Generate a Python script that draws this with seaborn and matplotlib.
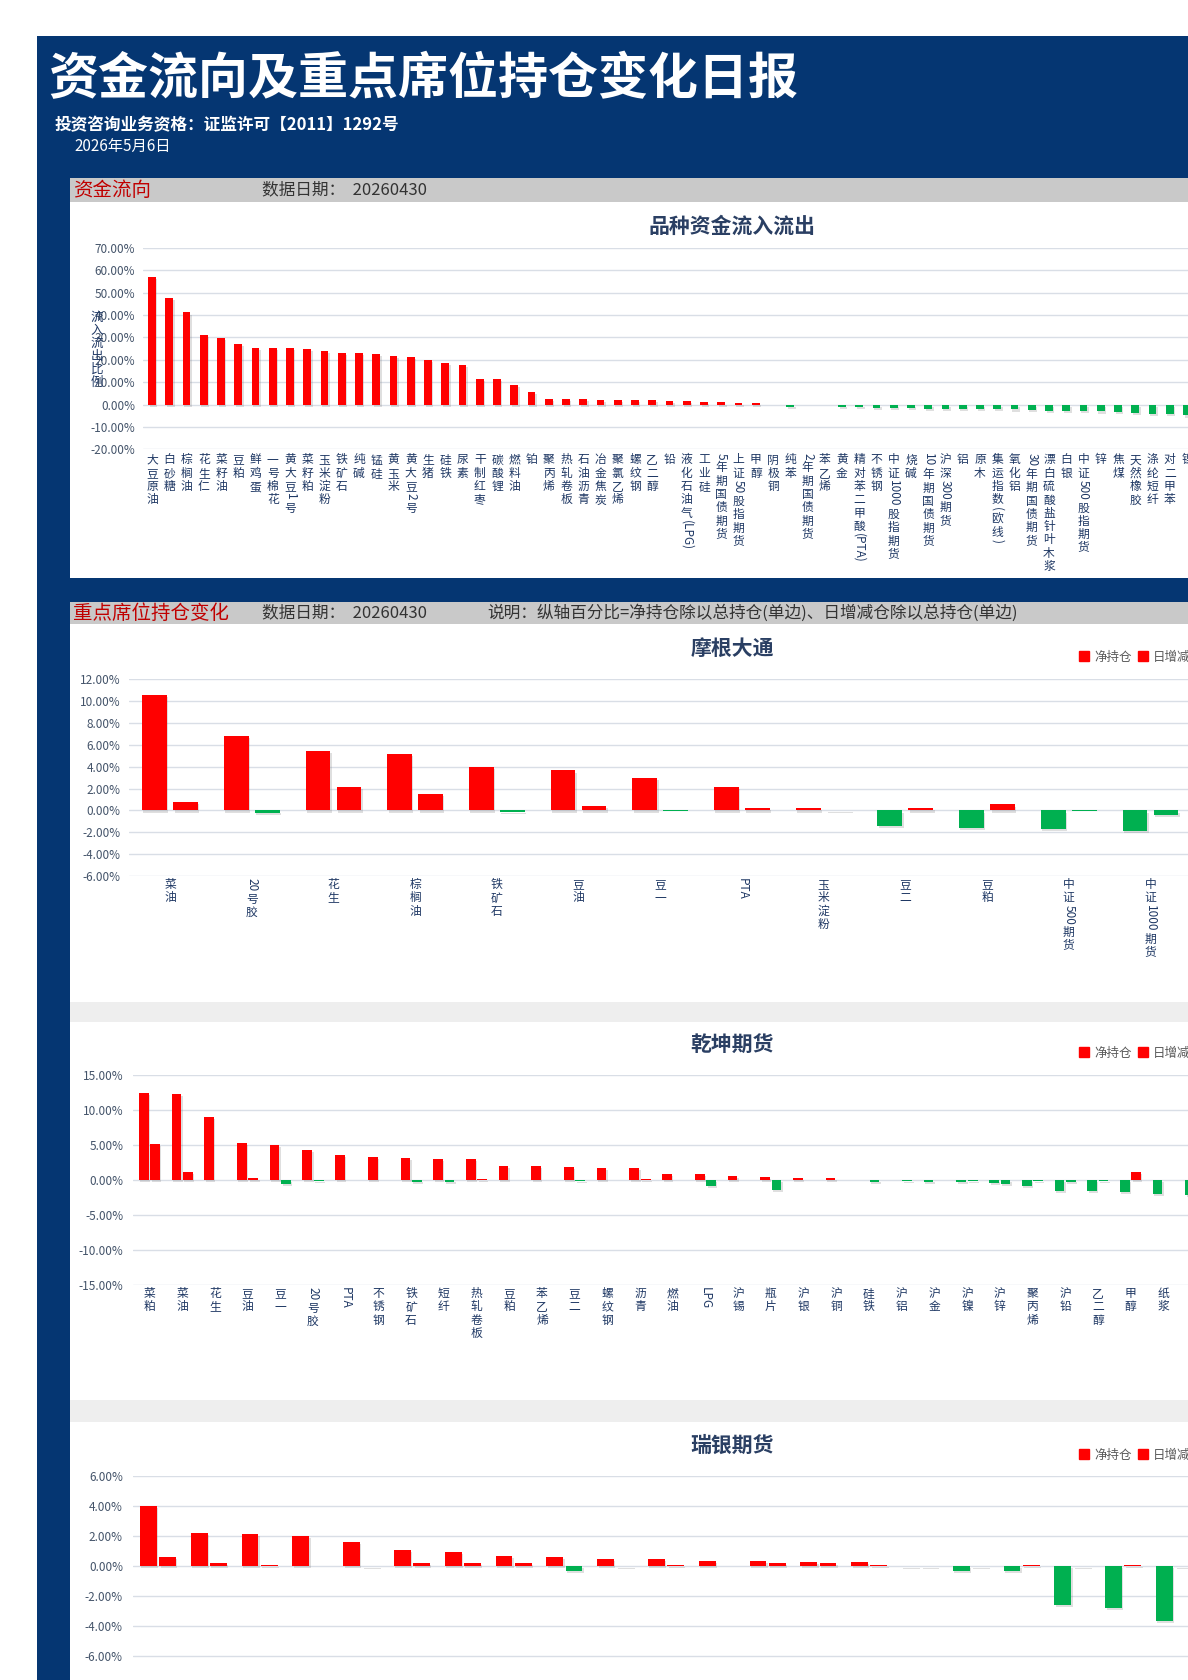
import re
import matplotlib
matplotlib.use('Agg')
import matplotlib.pyplot as plt
import matplotlib.patheffects as pe
import seaborn as sns
import pandas as pd
from matplotlib.patches import Rectangle
from matplotlib.lines import Line2D

# --- Data ---
flow_names = ['大豆原油', '白砂糖', '棕榈油', '花生仁', '菜籽油', '豆粕', '鲜鸡蛋', '一号棉花', '黄大豆1号', '菜籽粕',
              '玉米淀粉', '铁矿石', '纯碱', '锰硅', '黄玉米', '黄大豆2号', '生猪', '硅铁', '尿素', '干制红枣',
              '碳酸锂', '燃料油', '铂', '聚丙烯', '热轧卷板', '石油沥青', '冶金焦炭', '聚氯乙烯', '螺纹钢', '乙二醇',
              '铅', '液化石油气(LPG)', '工业硅', '5年期国债期货', '上证50股指期货', '甲醇', '阴极铜', '纯苯', '2年期国债期货', '苯乙烯',
              '黄金', '精对苯二甲酸(PTA)', '不锈钢', '中证1000股指期货', '烧碱', '10年期国债期货', '沪深300期货', '铝', '原木', '集运指数(欧线)',
              '氧化铝', '30年期国债期货', '漂白硫酸盐针叶木浆', '白银', '中证500股指期货', '锌', '焦煤', '天然橡胶', '涤纶短纤', '对二甲苯',
              '镍']
flow_values = [57.0, 47.6, 41.1, 31.0, 29.8, 26.9, 25.1, 25.1, 25.1, 24.9,
               23.8, 23.1, 23.1, 22.5, 21.7, 21.1, 19.8, 18.5, 17.7, 11.5,
               11.5, 8.8, 5.5, 2.4, 2.4, 2.4, 2.1, 2.0, 2.0, 1.9,
               1.6, 1.5, 1.0, 0.9, 0.7, 0.6, -0.3, -1.2, -0.3, -0.3,
               -1.2, -1.3, -1.6, -1.6, -1.6, -1.8, -1.8, -1.8, -1.9, -2.1,
               -2.2, -2.5, -2.8, -3.0, -3.0, -3.1, -3.4, -3.6, -4.2, -4.3,
               -4.9]

jpm_names = ['菜油', '20号胶', '花生', '棕榈油', '铁矿石', '豆油', '豆一', 'PTA', '玉米淀粉', '豆二', '豆粕',
             '中证500期货', '中证1000期货']
jpm_net = [10.53, 6.81, 5.43, 5.16, 3.97, 3.66, 3.0, 2.14, 0.2, -1.44, -1.59, -1.7, -1.9]
jpm_chg = [0.76, -0.24, 2.14, 1.53, -0.15, 0.4, -0.05, 0.2, 0.05, 0.2, 0.55, -0.03, -0.42]

qk_names = ['菜粕', '菜油', '花生', '豆油', '豆一', '20号胶', 'PTA', '不锈钢', '铁矿石', '短纤', '热轧卷板',
            '豆粕', '苯乙烯', '豆二', '螺纹钢', '沥青', '燃油', 'LPG', '沪锡', '瓶片', '沪银', '沪铜', '硅铁',
            '沪铝', '沪金', '沪镍', '沪锌', '聚丙烯', '沪铅', '乙二醇', '甲醇', '纸浆', '棉花']
qk_net = [12.48, 12.29, 9.05, 5.24, 5.0, 4.33, 3.57, 3.29, 3.14, 3.05, 3.05,
          2.05, 2.05, 1.86, 1.76, 1.76, 0.81, 0.81, 0.57, 0.48, 0.24, 0.24, 0.0,
          0.0, -0.29, -0.29, -0.43, -0.9, -1.57, -1.57, -1.67, -2.0, -2.1]
qk_chg = [5.19, 1.14, 0.0, 0.24, -0.62, -0.1, 0.0, 0.0, -0.24, -0.24, 0.2,
          0.0, 0.0, -0.1, 0.0, 0.2, 0.0, -0.81, 0.0, -1.43, 0.0, 0.0, -0.29,
          -0.1, 0.0, -0.1, -0.52, -0.1, -0.29, -0.1, 1.14, 0.0, 0.0]

# category labels of the UBS chart sit below the visible page
ubs_names = ['U01', 'U02', 'U03', 'U04', 'U05', 'U06', 'U07', 'U08', 'U09', 'U10', 'U11',
             'U12', 'U13', 'U14', 'U15', 'U16', 'U17', 'U18', 'U19', 'U20', 'U21']
ubs_net = [3.98, 2.16, 2.09, 1.98, 1.56, 1.04, 0.89, 0.67, 0.6, 0.44, 0.44,
           0.33, 0.33, 0.24, 0.24, -0.05, -0.36, -0.36, -2.62, -2.8, -3.67]
ubs_chg = [0.56, 0.16, 0.05, 0.0, -0.05, 0.16, 0.16, 0.16, -0.36, -0.05, 0.05,
           0.0, 0.16, 0.16, 0.05, -0.05, -0.05, 0.05, -0.05, 0.05, -0.05]

SERIES = ['净持仓', '日增减仓']

# --- Style ---
W, H, DPI = 1188, 1680, 100
NAVY = '#053672'
RED = '#FF0000'
GREEN = '#00B050'
GRID = '#D9DEE6'
TICK_C = '#44546A'
LABEL_C = '#1F3864'
TITLE_C = '#2A3F63'

sns.set_theme(style='white')
plt.rcParams['font.family'] = ['Noto Sans CJK SC', 'DejaVu Sans']
plt.rcParams['axes.unicode_minus'] = False

fig = plt.figure(figsize=(W / DPI, H / DPI), dpi=DPI)
fig.patch.set_facecolor('white')
renderer = fig.canvas.get_renderer()


def fx(px):
    return px / W


def fy(py):
    return 1 - py / H


def rect(x0, y0, x1, y1, color):
    fig.add_artist(Rectangle((fx(x0), fy(y1)), fx(x1) - fx(x0), (y1 - y0) / H,
                             transform=fig.transFigure, facecolor=color, edgecolor='none', zorder=0))


def make_ax(left, top, bottom, width):
    return fig.add_axes([fx(left), fy(bottom), width / W, (bottom - top) / H])


def stack_label(ax, x, text, top_pt, fs=8.5, pitch=9.6):
    # vertical label: CJK upright, latin/digit runs turned 90 degrees
    cursor = top_pt
    for seg in re.findall(r'[\x00-\x7f]+|[^\x00-\x7f]', text):
        ascii_run = seg.isascii()
        t = ax.annotate(seg, xy=(x, 0), xycoords=ax.get_xaxis_transform(),
                        xytext=(0, -cursor), textcoords='offset points',
                        ha='center', va='top', rotation=-90 if ascii_run else 0,
                        fontsize=fs, color=LABEL_C, annotation_clip=False)
        if ascii_run:
            cursor += t.get_window_extent(renderer).height * 72 / DPI + 1.0
        else:
            cursor += pitch


def style_axis(ax, ticks, xlim, pad):
    ax.set_facecolor('none')
    ax.set_xlim(*xlim)
    ax.set_ylim(ticks[0], ticks[-1])
    ax.set_yticks(ticks)
    ax.set_yticklabels([f'{v:.2f}%' for v in ticks])
    ax.tick_params(axis='y', length=0, pad=pad, labelsize=8.5, labelcolor=TICK_C)
    ax.tick_params(axis='x', length=0, labelbottom=False)
    ax.grid(axis='y', color=GRID, lw=1)
    ax.set_axisbelow(True)
    ax.set_xlabel('')
    ax.set_ylabel('')
    sns.despine(ax=ax, left=True, bottom=True)


def color_bars(ax):
    shadow = [pe.SimplePatchShadow(offset=(1, -1.5), shadow_rgbFace='#808080', alpha=0.25), pe.Normal()]
    for p in ax.patches:
        c = RED if p.get_height() >= 0 else GREEN
        p.set_facecolor(c)
        p.set_edgecolor('none')
        p.set_path_effects(shadow)


def legend_at(x, y):
    handles = [Line2D([], [], marker='s', linestyle='none', markersize=6.5,
                      markerfacecolor=RED, markeredgecolor=RED) for _ in SERIES]
    fig.legend(handles, SERIES, loc='center left', bbox_to_anchor=(fx(x), fy(y)),
               bbox_transform=fig.transFigure, ncol=2, frameon=False, fontsize=9,
               handlelength=0.8, handletextpad=0.4, columnspacing=0.5, labelcolor='#595959')


# --- Page background ---
rect(37, 36, W, H, NAVY)
rect(70, 178, W, 202, '#C9C9C9')
rect(70, 202, W, 578, 'white')
rect(70, 602, W, 624, '#C9C9C9')
rect(70, 624, W, 1002, 'white')
rect(70, 1002, W, 1022, '#EEEEEE')
rect(70, 1022, W, 1400, 'white')
rect(70, 1400, W, 1422, '#EEEEEE')
rect(70, 1422, W, H, 'white')

fig.text(fx(48), fy(80), '资金流向及重点席位持仓变化日报', color='white', fontsize=36,
         fontweight='bold', va='center', ha='left')
fig.text(fx(55), fy(125), '投资咨询业务资格：证监许可【2011】1292号', color='white', fontsize=12,
         fontweight='bold', va='center', ha='left')
fig.text(fx(74), fy(146), '2026年5月6日', color='white', fontsize=11, va='center', ha='left')

fig.text(fx(73), fy(190), '资金流向', color='#C00000', fontsize=14, va='center', ha='left')
fig.text(fx(262), fy(190), '数据日期：  20260430', color='#333333', fontsize=12, va='center', ha='left')
fig.text(fx(73), fy(613), '重点席位持仓变化', color='#C00000', fontsize=14, va='center', ha='left')
fig.text(fx(262), fy(613), '数据日期：  20260430', color='#333333', fontsize=12, va='center', ha='left')
fig.text(fx(487), fy(613), '说明：纵轴百分比=净持仓除以总持仓(单边)、日增减仓除以总持仓(单边)',
         color='#333333', fontsize=12, va='center', ha='left')

# --- 1. Fund flow by commodity ---
ax1 = make_ax(143.4, 247.7, 449.3, 65 * 17.25)
flow_df = pd.DataFrame({'品种': flow_names, '比例': flow_values})
sns.barplot(data=flow_df, x='品种', y='比例', ax=ax1, width=0.45, color=RED, errorbar=None)
color_bars(ax1)
style_axis(ax1, list(range(-20, 71, 10)), (-0.5, 64.5), 6)
for i, name in enumerate(flow_names):
    stack_label(ax1, i, name, 3.0)
fig.text(fx(732), fy(226), '品种资金流入流出', color=TITLE_C, fontsize=15, fontweight='bold',
         ha='center', va='center')
for k, ch in enumerate('流入流出比例'):
    fig.text(fx(97), fy(311 + 13 * k), ch, color=LABEL_C, fontsize=9, ha='center', va='top')


def seat_chart(names, net, chg, left, top, bottom, step, xlim, ticks, width, gap, pad, title, ty, ly, lab_top):
    ax = make_ax(left, top, bottom, (xlim[1] - xlim[0]) * step)
    df = pd.DataFrame({'品种': names * 2, '类型': [SERIES[0]] * len(names) + [SERIES[1]] * len(names),
                       '比例': net + chg})
    sns.barplot(data=df, x='品种', y='比例', hue='类型', ax=ax, width=width, gap=gap,
                errorbar=None, legend=False, palette=[RED, RED])
    color_bars(ax)
    style_axis(ax, ticks, xlim, pad)
    if lab_top is not None:
        for i, name in enumerate(names):
            stack_label(ax, i, name, lab_top)
    fig.text(fx(732), fy(ty), title, color=TITLE_C, fontsize=15, fontweight='bold',
             ha='center', va='center')
    legend_at(1068, ly)
    return ax


# --- 2. J.P. Morgan ---
seat_chart(jpm_names, jpm_net, jpm_chg, 129.2, 679.3, 876, 81.7, (-0.5, 14.5),
           list(range(-6, 13, 2)), 0.76, 0.2, 6.5, '摩根大通', 648, 657, 1.5)

# --- 3. Qiankun Futures ---
seat_chart(qk_names, qk_net, qk_chg, 133.15, 1075, 1285, 32.7, (-0.5, 35.5),
           list(range(-15, 16, 5)), 0.7, 0.15, 7, '乾坤期货', 1044, 1053, 1.5)

# --- 4. UBS Futures ---
seat_chart(ubs_names, ubs_net, ubs_chg, 132.6, 1475.7, 1685.7, 50.8, (-0.5, 23.5),
           list(range(-8, 7, 2)), 0.76, 0.13, 7, '瑞银期货', 1445, 1455, None)

fig.savefig('out.png', dpi=DPI)
